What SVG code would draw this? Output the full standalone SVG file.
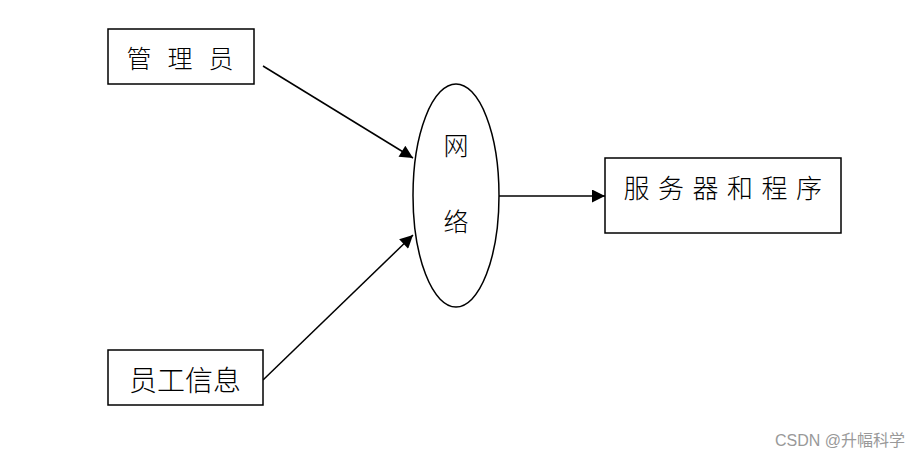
<svg xmlns="http://www.w3.org/2000/svg" width="921" height="460" viewBox="0 0 921 460">
<defs>
<style>
.box{fill:#fff;stroke:#000;stroke-width:1.5}
.t{font-family:"Noto Sans CJK SC","Liberation Sans",sans-serif;font-weight:300;fill:#000}
.edge{stroke:#000;stroke-width:1.5;fill:none;marker-end:url(#ah)}
</style>
<marker id="ah" viewBox="0 0 10 10" refX="10" refY="5" markerWidth="17" markerHeight="13" markerUnits="userSpaceOnUse" orient="auto">
<path d="M0,0 L10,5 L0,10 z" fill="#000"/>
</marker>
</defs>
<rect width="921" height="460" fill="#fff"/>
<g id="connectors">
<line class="edge" x1="263" y1="66" x2="413" y2="158"/>
<line class="edge" x1="263" y1="380" x2="413" y2="235"/>
<line class="edge" x1="499" y1="196" x2="605" y2="196"/>
</g>
<g id="admin">
<rect class="box" x="108" y="29" width="146" height="55"/>
<text class="t" x="188" y="68" font-size="25" text-anchor="middle" letter-spacing="16">管理员</text>
</g>
<g id="employee">
<rect class="box" x="108" y="350" width="155" height="55"/>
<text class="t" x="185" y="391" font-size="28" text-anchor="middle">员工信息</text>
</g>
<g id="network">
<ellipse class="box" cx="456" cy="195.5" rx="43" ry="111.5"/>
<text class="t" x="456" y="155" font-size="25" text-anchor="middle">网</text>
<text class="t" x="456" y="231" font-size="25" text-anchor="middle">络</text>
</g>
<g id="server">
<rect class="box" x="605" y="158" width="236" height="75"/>
<text class="t" x="727" y="198" font-size="26" text-anchor="middle" letter-spacing="8.5">服务器和程序</text>
</g>
<text x="905" y="446" font-family="&quot;Liberation Sans&quot;,&quot;Noto Sans CJK SC&quot;,sans-serif" font-size="16" fill="#999" text-anchor="end">CSDN @升幅科学</text>
</svg>
